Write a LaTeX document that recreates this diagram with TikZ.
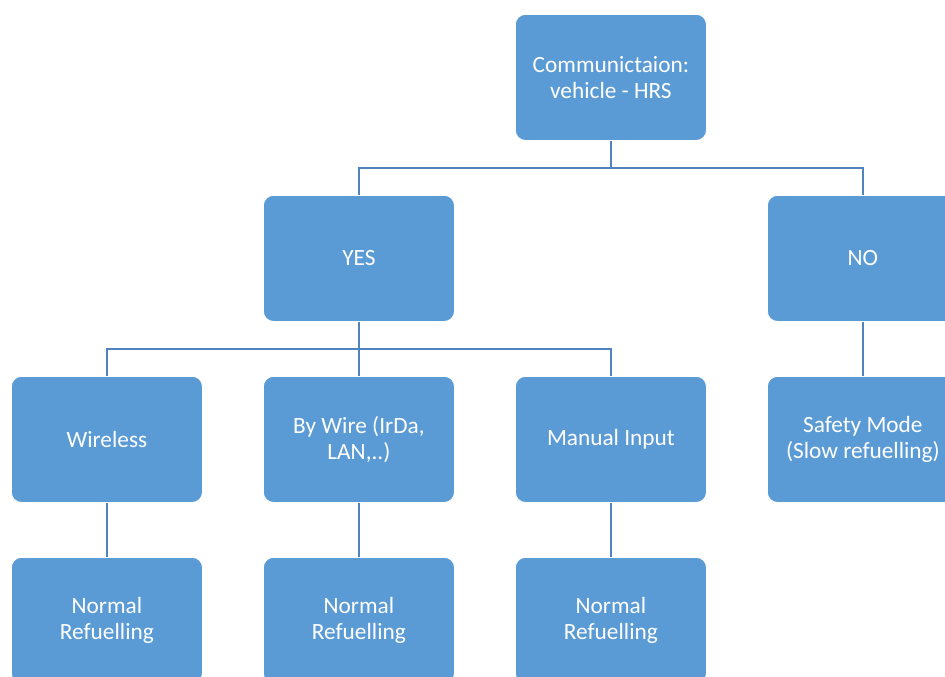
\documentclass[tikz,border=0pt]{standalone}
\usepackage{fontspec}
\setmainfont{Carlito}
\definecolor{boxfill}{HTML}{5B9BD5}
\definecolor{linkcol}{HTML}{4F84BE}
\begin{document}
\begin{tikzpicture}[x=1pt,y=-1pt,
  card/.style={rectangle, rounded corners=10pt, fill=boxfill, draw=white, line width=0.8pt,
    minimum width=191pt, minimum height=126pt, inner sep=0pt, text=white,
    font=\fontsize{23.3}{26}\selectfont, align=center, anchor=north west},
  link/.style={draw=linkcol, line width=2.6pt}]
\useasboundingbox (0,0) rectangle (945,677);
\clip (0,0) rectangle (945,677);
% tree levels
\node[card] (top)    at (515,14)  {Communictaion:\\vehicle - HRS};
\node[card] (yes)    at (263,195) {YES};
\node[card] (no)     at (767,195) {NO};
\node[card] (wless)  at (11,376)  {Wireless};
\node[card] (wire)   at (263,376) {By Wire (IrDa,\\LAN,..)};
\node[card] (manual) at (515,376) {Manual Input};
\node[card] (safe)   at (767,376) {Safety Mode\\(Slow refuelling)};
\node[card] (n1)     at (11,557)  {Normal\\Refuelling};
\node[card] (n2)     at (263,557) {Normal\\Refuelling};
\node[card] (n3)     at (515,557) {Normal\\Refuelling};
% elbow connectors
\draw[link] (top.south) -- ++(0,27) -| (yes.north);
\draw[link] (top.south) -- ++(0,27) -| (no.north);
\draw[link] (yes.south) -- ++(0,27) -| (wless.north);
\draw[link] (yes.south) -- (wire.north);
\draw[link] (yes.south) -- ++(0,27) -| (manual.north);
\draw[link] (no.south) -- (safe.north);
\draw[link] (wless.south) -- (n1.north);
\draw[link] (wire.south) -- (n2.north);
\draw[link] (manual.south) -- (n3.north);
\end{tikzpicture}
\end{document}
